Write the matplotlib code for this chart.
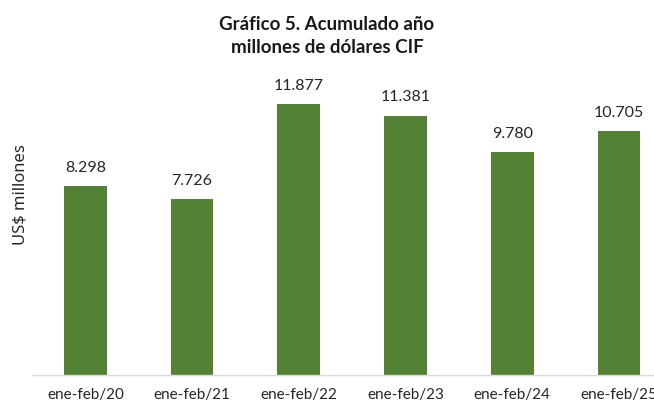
import matplotlib
matplotlib.use('Agg')
import matplotlib.pyplot as plt

categories = ['ene-feb/20', 'ene-feb/21', 'ene-feb/22', 'ene-feb/23', 'ene-feb/24', 'ene-feb/25']
values = [8298, 7726, 11877, 11381, 9780, 10705]

GREEN = '#548235'
plt.rcParams['font.family'] = ['Lato', 'DejaVu Sans']

fig = plt.figure(figsize=(6.54, 4.05), dpi=100)
ax = fig.add_axes([0.049, 0.074, 0.979, 0.788])

x = range(len(categories))
bars = ax.bar(x, values, width=0.4, color=GREEN)

for xi, v in zip(x, values):
    label = f"{v:,}".replace(',', '.')
    ax.annotate(label, (xi, v), xytext=(0, 8), textcoords='offset points',
                ha='center', va='bottom', fontsize=11.5, color='#262626')

ax.set_xlim(-0.5, 5.5)
ax.set_ylim(0, 14000)
ax.set_xticks(list(x))
ax.set_xticklabels(categories, fontsize=11, color='#262626')
ax.tick_params(axis='x', length=0, pad=9)
ax.set_yticks([])
for side in ['top', 'right', 'left']:
    ax.spines[side].set_visible(False)
ax.spines['bottom'].set_color('#D9D9D9')
ax.spines['bottom'].set_linewidth(1)

# y label: wider face to match the reference's length
fig.text(0.032, 0.52, 'US$ millones', rotation=90, ha='center', va='center',
         fontsize=12, color='#262626', family=['Noto Sans', 'DejaVu Sans'])
fig.text(0.5, 0.96, 'Gráfico 5. Acumulado año\nmillones de dólares CIF',
         ha='center', va='top', fontsize=13.5, fontweight='bold',
         color='#1a1a1a', linespacing=1.4)

fig.savefig('out.png', dpi=100)
